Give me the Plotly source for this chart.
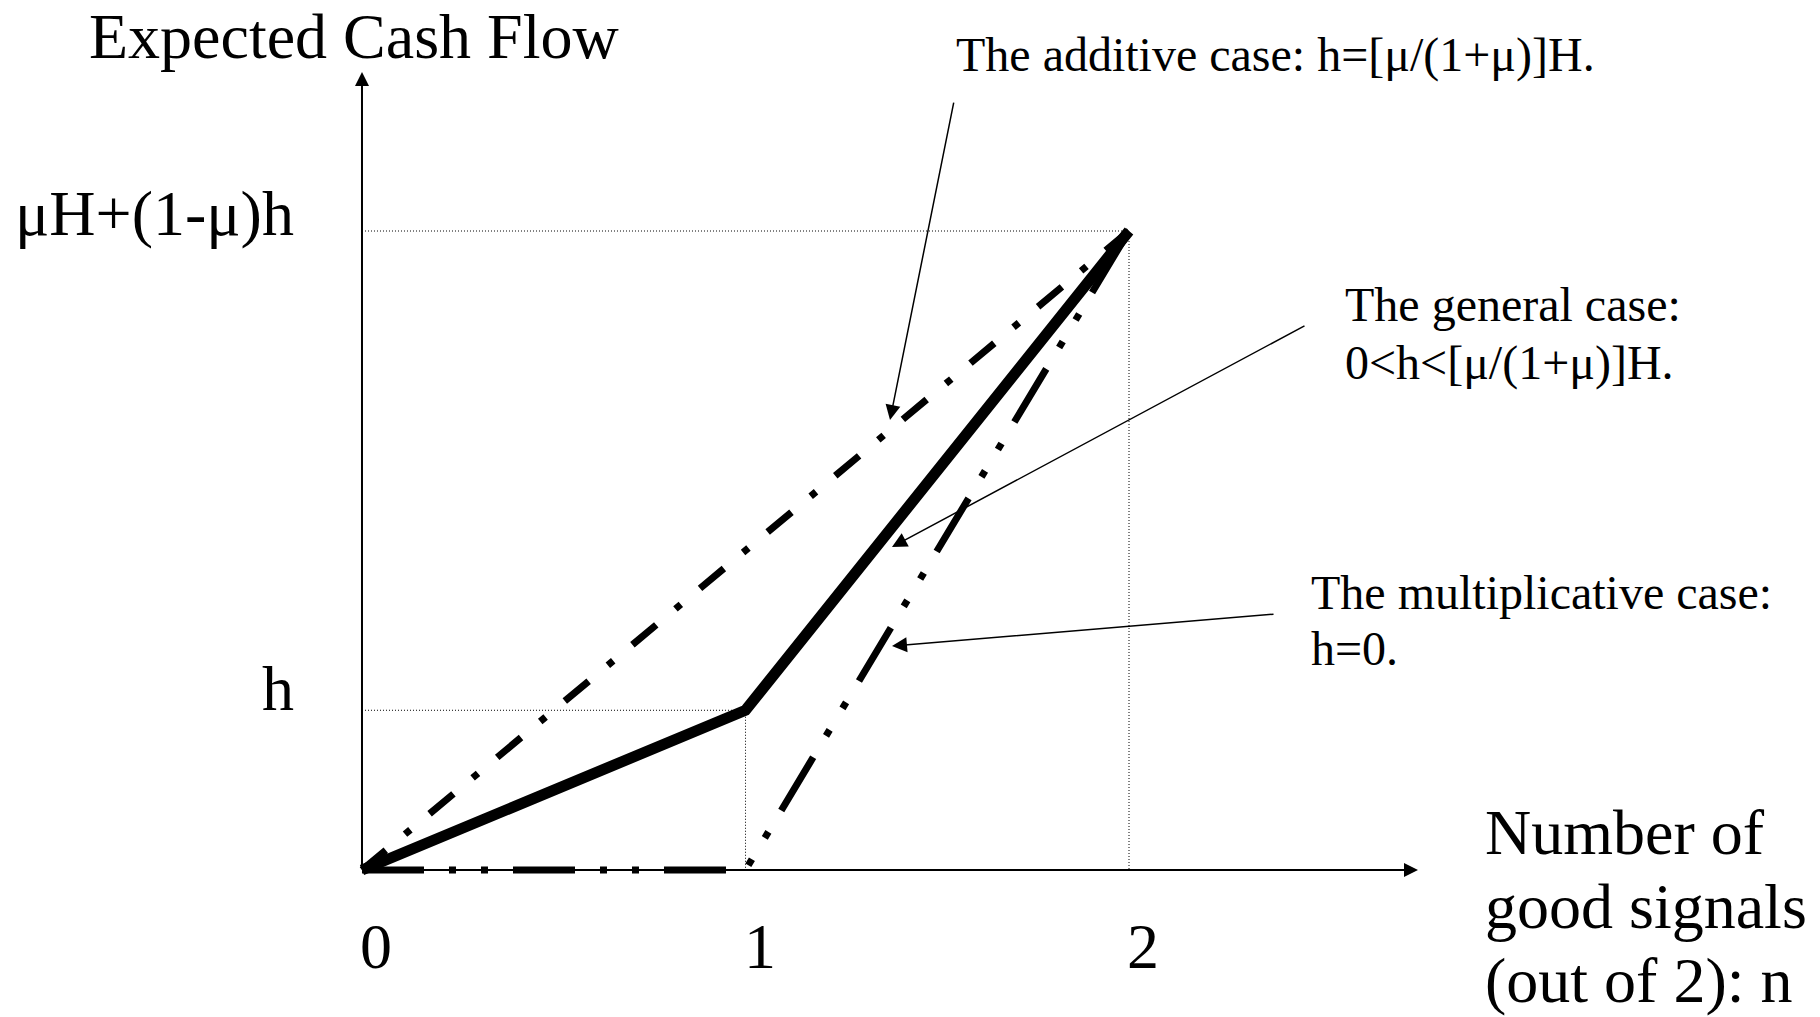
import plotly.graph_objects as go

# ---- data ----
n_signals = [0, 1, 2]
additive = [0.0, 0.5, 1.0]
general = [0.0, 0.25, 1.0]
multiplicative = [0.0, 0.0, 1.0]
x_tick_vals = [0, 1, 2]
x_tick_text = ["0", "1", "2"]
y_tick_vals = [0.25, 1.0]
y_tick_text = ["h", "μH+(1-μ)h"]

FONT = "Liberation Serif, Times New Roman, serif"
W, H = 1820, 1017
XR = [-0.9439, 3.8018]
YR = [-0.2300, 1.3615]

fig = go.Figure()

# dotted guide lines
h_val = y_tick_vals[0]
top_val = y_tick_vals[1]
guide = dict(color="black", width=1, dash="1px,2px")
fig.add_trace(go.Scatter(x=[0, n_signals[2], n_signals[2]], y=[top_val, top_val, 0],
                         mode="lines", line=guide, hoverinfo="skip"))
fig.add_trace(go.Scatter(x=[0, n_signals[1], n_signals[1]], y=[h_val, h_val, 0],
                         mode="lines", line=guide, hoverinfo="skip"))

# cases
fig.add_trace(go.Scatter(x=n_signals, y=additive, mode="lines", name="additive",
                         line=dict(color="black", width=7, dash="31px,25px,7px,25px")))
fig.add_trace(go.Scatter(x=n_signals, y=multiplicative, mode="lines", name="multiplicative",
                         line=dict(color="black", width=7,
                                   dash="62px,25px,7px,25px,7px,25px")))
fig.add_trace(go.Scatter(x=n_signals, y=general, mode="lines", name="general",
                         line=dict(color="black", width=11)))

ann = []
# axes with arrowheads
ann.append(dict(x=0, y=1.2488, ax=0, ay=0, xref="x", yref="y", axref="x", ayref="y",
                text="", showarrow=True, arrowhead=2, arrowsize=1.4, arrowwidth=2,
                arrowcolor="black", standoff=0, startstandoff=0))
ann.append(dict(x=2.7536, y=0, ax=0, ay=0, xref="x", yref="y", axref="x", ayref="y",
                text="", showarrow=True, arrowhead=2, arrowsize=1.4, arrowwidth=2,
                arrowcolor="black", standoff=0, startstandoff=0))

big = dict(family=FONT, size=64, color="black")
small = dict(family=FONT, size=48, color="black")

# tick labels
for v, t in zip(x_tick_vals, x_tick_text):
    ann.append(dict(x=v, y=-0.119, xref="x", yref="y", text=t, showarrow=False,
                    xanchor="center", yanchor="middle", xshift=14, font=big))
for v, t in zip(y_tick_vals, y_tick_text):
    ann.append(dict(x=-0.172, y=v, xref="x", yref="y", text=t, showarrow=False,
                    xanchor="right", yanchor="middle", yshift=18 if v == 1.0 else 22,
                    font=big))

ann.append(dict(x=-0.022, y=1.304, xref="x", yref="y", text="Expected Cash Flow",
                showarrow=False, xanchor="center", yanchor="middle", font=big))

for i, line in enumerate(["Number of", "good signals", "(out of 2): n"]):
    ann.append(dict(x=2.923, y=(870 - (832 + 74 * i)) / 639, xref="x", yref="y",
                    text=line, showarrow=False, xanchor="left", yanchor="middle", font=big))

# callout texts
ann.append(dict(x=1.5437, y=1.2754, xref="x", yref="y",
                text="The additive case: h=[μ/(1+μ)]H.", showarrow=False,
                xanchor="left", yanchor="middle", font=small))
for i, line in enumerate(["The general case:", "0<h<[μ/(1+μ)]H."]):
    ann.append(dict(x=2.558, y=(870 - (304 + 59 * i)) / 639, xref="x", yref="y",
                    text=line, showarrow=False, xanchor="left", yanchor="middle", font=small))
for i, line in enumerate(["The multiplicative case:", "h=0."]):
    ann.append(dict(x=2.469, y=(870 - (592 + 56 * i)) / 639, xref="x", yref="y",
                    text=line, showarrow=False, xanchor="left", yanchor="middle", font=small))

# callout arrows
for (hx, hy, tx, ty) in [(1.3768, 0.7042, 1.5437, 1.2034),
                         (1.3820, 0.5055, 2.4615, 0.8529),
                         (1.3820, 0.3505, 2.3807, 0.4006)]:
    ann.append(dict(x=hx, y=hy, ax=tx, ay=ty, xref="x", yref="y", axref="x", ayref="y",
                    text="", showarrow=True, arrowhead=2, arrowsize=2, arrowwidth=1.5,
                    arrowcolor="black", standoff=0, startstandoff=0))

fig.update_layout(
    width=W, height=H,
    margin=dict(l=0, r=0, t=0, b=0),
    paper_bgcolor="white", plot_bgcolor="white",
    showlegend=False,
    xaxis=dict(range=XR, visible=False, fixedrange=True),
    yaxis=dict(range=YR, visible=False, fixedrange=True),
    annotations=ann,
)

fig.write_html("out.html",
               config={"displayModeBar": False},
               post_script="document.body.style.margin='0';"
                           "document.body.style.overflow='hidden';")
